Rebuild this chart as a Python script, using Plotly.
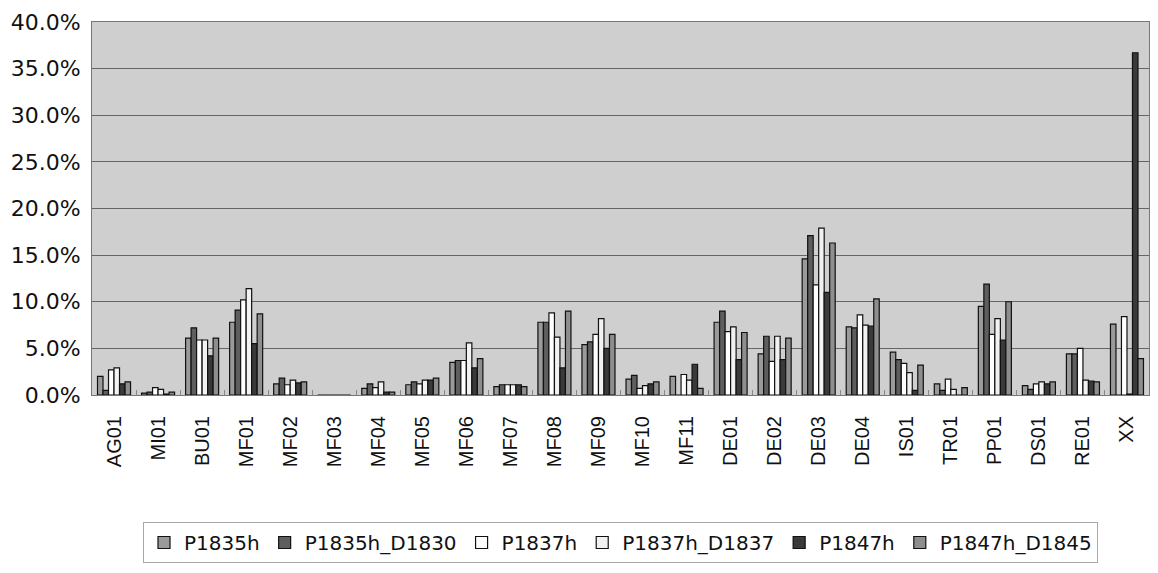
import plotly.graph_objects as go

categories = ["AG01", "MI01", "BU01", "MF01", "MF02", "MF03", "MF04", "MF05", "MF06",
              "MF07", "MF08", "MF09", "MF10", "MF11", "DE01", "DE02", "DE03", "DE04",
              "IS01", "TR01", "PP01", "DS01", "RE01", "XX"]

# values in percent
p1835h       = [2.0, 0.2, 6.1, 7.8, 1.2, 0, 0.7, 1.1, 3.5, 0.9, 7.8, 5.4, 1.7, 2.0, 7.8, 4.4, 14.6, 7.3, 4.6, 1.2, 9.5, 1.0, 4.4, 7.6]
p1835h_d1830 = [0.5, 0.3, 7.2, 9.1, 1.8, 0, 1.2, 1.4, 3.7, 1.1, 7.8, 5.7, 2.1, 0.0, 9.0, 6.3, 17.1, 7.2, 3.8, 0.5, 11.9, 0.6, 4.4, 0.0]
p1837h       = [2.7, 0.8, 5.9, 10.2, 1.1, 0, 0.8, 1.2, 3.7, 1.1, 8.8, 6.5, 0.7, 2.2, 6.8, 3.6, 11.8, 8.6, 3.4, 1.7, 6.5, 1.2, 5.0, 8.4]
p1837h_d1837 = [2.9, 0.6, 5.9, 11.4, 1.6, 0, 1.4, 1.6, 5.6, 1.1, 6.2, 8.2, 1.0, 1.6, 7.3, 6.3, 17.9, 7.5, 2.4, 0.6, 8.2, 1.4, 1.6, 0.1]
p1847h       = [1.2, 0.1, 4.2, 5.5, 1.3, 0, 0.3, 1.6, 2.9, 1.1, 2.9, 5.0, 1.2, 3.3, 3.8, 3.8, 11.0, 7.4, 0.5, 0.0, 5.9, 1.2, 1.5, 36.7]
p1847h_d1845 = [1.4, 0.3, 6.1, 8.7, 1.4, 0, 0.3, 1.8, 3.9, 0.9, 9.0, 6.5, 1.4, 0.7, 6.7, 6.1, 16.3, 10.3, 3.2, 0.8, 10.0, 1.4, 1.4, 3.9]

series_names = ["P1835h", "P1835h_D1830", "P1837h", "P1837h_D1837", "P1847h", "P1847h_D1845"]
series_values = [p1835h, p1835h_d1830, p1837h, p1837h_d1837, p1847h, p1847h_d1845]
series_colors = ["#9a9a9a", "#5e5e5e", "#ffffff", "#f2f2f2", "#3a3a3a", "#8e8e8e"]

wide_font = "DejaVu Sans, Verdana, sans-serif"
narrow_font = "Liberation Sans, Arial, sans-serif"

fig = go.Figure()
for name, vals, col in zip(series_names, series_values, series_colors):
    fig.add_trace(go.Bar(
        x=categories,
        y=[v / 100 for v in vals],
        name=name,
        marker=dict(color=col, line=dict(color="#111111", width=1.2)),
    ))

fig.update_layout(
    width=1158, height=573,
    margin=dict(l=92, r=9, t=22, b=178, autoexpand=False),
    barmode="group",
    bargap=0.25,
    bargroupgap=0,
    plot_bgcolor="#cfcfcf",
    paper_bgcolor="#ffffff",
    font=dict(family=wide_font, size=20, color="#111111"),
    showlegend=True,
    legend=dict(
        orientation="h",
        x=0.5, xanchor="center",
        y=-0.3405, yanchor="top",
        bordercolor="#a8a8a8", borderwidth=1,
        font=dict(size=20, family=wide_font, color="#111111"),
        itemwidth=30,
        tracegroupgap=0,
    ),
)

fig.update_yaxes(
    range=[0, 0.4],
    dtick=0.05,
    tickformat=".1%",
    showgrid=True,
    gridcolor="#666666",
    gridwidth=1,
    zeroline=False,
    showline=True,
    linecolor="#777777",
    mirror=True,
    ticks="",
    automargin=False,
    ticklabelstandoff=6,
    tickfont=dict(size=22, family=wide_font, color="#111111"),
)
fig.update_xaxes(
    tickangle=-90,
    showline=True,
    linecolor="#777777",
    mirror=True,
    ticks="inside",
    tickson="boundaries",
    ticklen=5,
    tickcolor="#888888",
    automargin=False,
    ticklabelstandoff=12,
    tickfont=dict(size=20, family=narrow_font, color="#111111"),
)

fig.write_html(
    "out.html",
    config={"displayModeBar": False},
    post_script="document.body.style.margin='0';document.body.style.overflow='hidden';",
)
